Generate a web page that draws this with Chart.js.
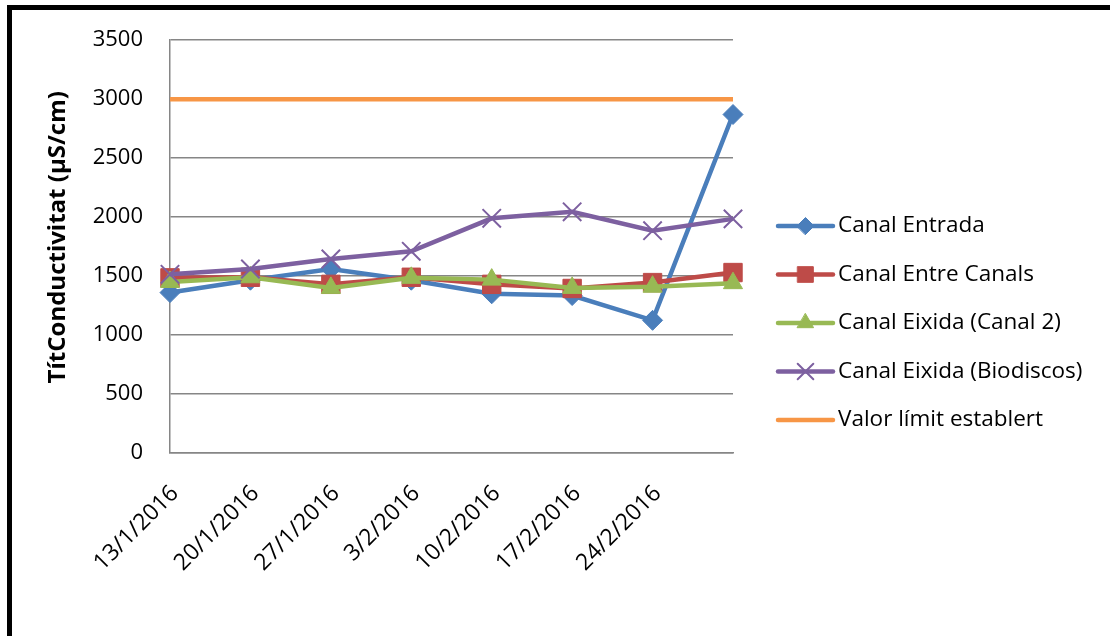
<!DOCTYPE html>
<html>
<head>
<meta charset="utf-8">
<script src="https://cdn.jsdelivr.net/npm/chart.js@4"></script>
<style>
  body { margin: 0; background: #fff; }
  #wrap { position: relative; width: 1110px; height: 636px; overflow: hidden; }
  #frame { position: absolute; left: 7px; top: 5px; width: 1200px; height: 700px;
           border-left: 5px solid #000; border-top: 5px solid #000; }
  canvas { position: absolute; left: 0; top: 0; }
</style>
</head>
<body>
<div id="wrap">
  <canvas id="condChart" width="1110" height="636"></canvas>
  <div id="frame"></div>
</div>
<script>
// data
const dates = ['13/1/2016', '20/1/2016', '27/1/2016', '3/2/2016', '10/2/2016', '17/2/2016', '24/2/2016', ''];
const entrada = [1360, 1465, 1560, 1465, 1350, 1335, 1125, 2870];
const entreCanals = [1485, 1490, 1430, 1490, 1430, 1395, 1445, 1530];
const eixidaCanal2 = [1450, 1490, 1400, 1485, 1470, 1400, 1410, 1440];
const eixidaBiodiscos = [1515, 1560, 1645, 1710, 1990, 2045, 1885, 1985];
const valorLimit = [3000, 3000, 3000, 3000, 3000, 3000, 3000, 3000];
const yTicks = [0, 500, 1000, 1500, 2000, 2500, 3000, 3500];

const FONT = "'Open Sans', sans-serif";

const series = [
    { label: 'Canal Entrada', data: entrada, color: '#4A7EBB', style: 'rectRot', radius: 10 },
    { label: 'Canal Entre Canals', data: entreCanals, color: '#BE4B48', style: 'rect', radius: 13 },
    { label: 'Canal Eixida (Canal 2)', data: eixidaCanal2, color: '#98B954', style: 'triangle', radius: 11 },
    { label: 'Canal Eixida (Biodiscos)', data: eixidaBiodiscos, color: '#7D60A0', style: 'crossRot', radius: 13 },
    { label: 'Valor límit establert', data: valorLimit, color: '#F79646', style: false, radius: 0 }
];

// legend drawn on the right like the Excel one: line + marker, then text
const sideLegend = {
    id: 'sideLegend',
    afterDraw(chart) {
        const ctx = chart.ctx;
        const x0 = 778, x1 = 833, y0 = 226, gap = 48.5;
        ctx.save();
        series.forEach((s, i) => {
            const y = y0 + i * gap;
            ctx.strokeStyle = s.color;
            ctx.lineWidth = 4.5;
            ctx.lineCap = 'round';
            ctx.beginPath();
            ctx.moveTo(x0, y);
            ctx.lineTo(x1, y);
            ctx.stroke();
            if (s.style) {
                ctx.fillStyle = s.color;
                ctx.strokeStyle = s.color;
                ctx.lineWidth = s.style === 'crossRot' ? 2 : 1;
                Chart.helpers.drawPoint(ctx, { pointStyle: s.style, radius: s.radius * 0.85, rotation: 0, borderWidth: ctx.lineWidth }, (x0 + x1) / 2, y);
            }
            ctx.fillStyle = '#000';
            ctx.font = '22.5px ' + FONT;
            ctx.textBaseline = 'middle';
            ctx.textAlign = 'left';
            ctx.fillText(s.label, 838, y);
        });
        ctx.restore();
    }
};

const ctx = document.getElementById('condChart').getContext('2d');
const condChart = new Chart(ctx, {
    type: 'line',
    data: {
        labels: dates,
        datasets: series.map((s, i) => ({
            label: s.label,
            data: s.data,
            borderColor: s.color,
            backgroundColor: s.color,
            borderWidth: 4.5,
            pointStyle: s.style,
            pointRadius: s.radius,
            pointBorderWidth: s.style === 'crossRot' ? 2 : 1,
            pointBorderColor: s.color,
            pointBackgroundColor: s.color,
            tension: 0,
            order: 5 - i // later series on top, like Excel
        }))
    },
    options: {
        responsive: false,
        animation: false,
        devicePixelRatio: 1,
        layout: { autoPadding: false, padding: { left: 0, right: 377, top: 36, bottom: 0 } },
        plugins: {
            legend: { display: false },
            tooltip: { enabled: false }
        },
        scales: {
            x: {
                offset: false,
                grid: { display: false, drawTicks: false },
                border: { color: '#868686', width: 1.5 },
                ticks: {
                    autoSkip: false,
                    maxRotation: 45,
                    minRotation: 45,
                    padding: 27,
                    labelOffset: 5,
                    color: '#000',
                    font: { family: FONT, size: 23 }
                },
                afterFit(scale) { scale.height = 183; }
            },
            y: {
                min: 0,
                max: 3500,
                afterBuildTicks(scale) { scale.ticks = yTicks.map(v => ({ value: v })); },
                grid: { color: '#868686', lineWidth: 1.5, drawTicks: false },
                border: { color: '#868686', width: 1.5 },
                ticks: {
                    padding: 27,
                    color: '#000',
                    font: { family: FONT, size: 22 },
                    callback: v => String(v)
                },
                title: {
                    display: true,
                    text: '   TítConductivitat (µS/cm)',
                    color: '#000',
                    font: { family: FONT, size: 24, weight: 'bold' },
                    padding: { top: 44, bottom: 0 }
                },
                afterFit(scale) { scale.width = 170; }
            }
        }
    },
    plugins: [sideLegend]
});
</script>
</body>
</html>
